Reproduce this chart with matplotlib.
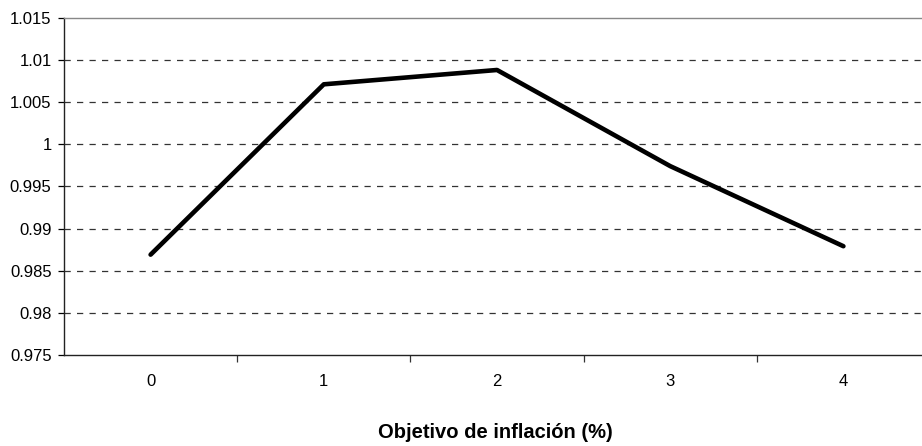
import matplotlib
matplotlib.use("Agg")
import matplotlib.pyplot as plt
from matplotlib.ticker import FixedLocator, FuncFormatter

plt.rcParams['font.family'] = ['Liberation Sans', 'DejaVu Sans']
plt.rcParams['lines.scale_dashes'] = False

# Data
targets = [0, 1, 2, 3, 4]
target_labels = ["0", "1", "2", "3", "4"]
welfare = [0.9869, 1.0071, 1.0088, 0.9974, 0.9879]
y_ticks = [0.975, 0.98, 0.985, 0.99, 0.995, 1.0, 1.005, 1.01, 1.015]

fig = plt.figure(figsize=(9.22, 4.46), dpi=100)
ax = fig.add_axes([64 / 922, 1 - 355 / 446, 1 - 64 / 922, (355 - 17.7) / 446])

# Dashed horizontal gridlines
for yv in y_ticks[1:-1]:
    ax.axhline(yv, color="#333333", lw=0.9, dashes=(4.5, 4.5), zorder=1)

ax.plot(targets, welfare, color="black", lw=3.3, solid_capstyle="round",
        solid_joinstyle="round", zorder=3)

ax.set_ylim(0.975, 1.015)
ax.set_xlim(-0.5, 4.5 - 8 / 173)

ax.yaxis.set_major_locator(FixedLocator(y_ticks))
ax.yaxis.set_major_formatter(FuncFormatter(lambda v, p: f"{v:g}"))
ax.set_xticks(targets)
ax.set_xticklabels(target_labels)
ax.xaxis.set_minor_locator(FixedLocator([0.5, 1.5, 2.5, 3.5]))

ax.tick_params(axis="x", which="major", length=0, pad=14, labelsize=12)
ax.tick_params(axis="x", which="minor", length=5, width=0.9, direction="out", color="#333333")
ax.tick_params(axis="y", which="major", length=4, width=0.9, direction="out",
               pad=5, labelsize=12)

for side in ("left", "bottom"):
    ax.spines[side].set_color("#222222")
    ax.spines[side].set_linewidth(1.0)
ax.spines["top"].set_color("#888888")
ax.spines["top"].set_linewidth(1.0)
ax.spines["right"].set_visible(False)

fig.text(495 / 922, 1 - 433 / 446, "Objetivo de inflación (%)", ha="center",
         va="center", fontsize=14.5, fontweight="bold")

fig.savefig("out.png", dpi=100)
